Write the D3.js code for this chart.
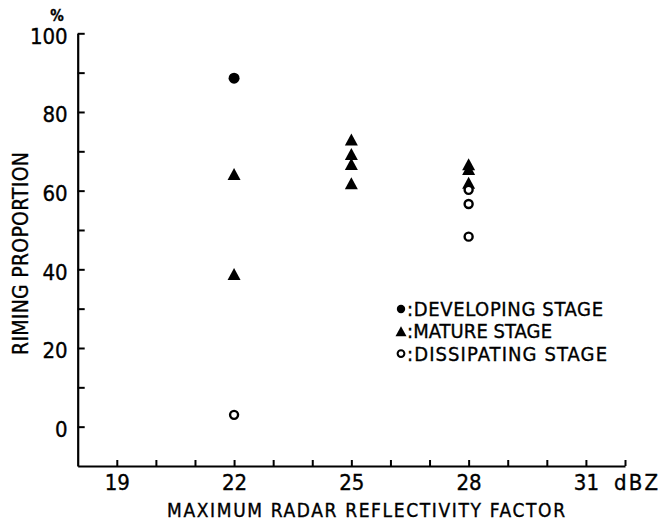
<!DOCTYPE html>
<html>
<head>
<meta charset="utf-8">
<script src="https://cdn.jsdelivr.net/npm/d3@7"></script>
<style>
  html, body { margin: 0; padding: 0; background: #fff; }
  svg { display: block; }
  text { font-family: "Liberation Sans Narrow", "DejaVu Sans Condensed", "Arial Narrow", sans-serif; fill: #000; stroke: #000; stroke-width: 0.35px; }
</style>
</head>
<body>
<svg id="chart" width="662" height="521"></svg>
<script>
// ---- data ----
const developingX = [22];
const developingY = [88.6];

const matureX = [22, 22, 25, 25, 25, 25, 28, 28, 28];
const matureY = [64.2, 38.8, 73.0, 69.3, 66.8, 61.9, 66.7, 65.5, 62.0];

const dissipatingX = [22, 28, 28, 28];
const dissipatingY = [3.0, 60.2, 56.6, 48.3];

const xTicks = [19, 20, 21, 22, 23, 24, 25, 26, 27, 28, 29, 30, 31, 32];
const xTickLabels = [19, 22, 25, 28, 31];
const yTicks = [0, 10, 20, 30, 40, 50, 60, 70, 80, 90, 100];
const yTickLabels = [0, 20, 40, 60, 80, 100];

const legendLabels = [":DEVELOPING STAGE", ":MATURE STAGE", ":DISSIPATING STAGE"];
const xTitle = "MAXIMUM  RADAR  REFLECTIVITY  FACTOR";
const yTitle = "RIMING  PROPORTION";
const xUnit = "dBZ";
const yUnit = "%";

// ---- chart ----
const svg = d3.select("#chart");
const x = d3.scaleLinear().domain([18, 32]).range([77.7, 625]);
const y = d3.scaleLinear().domain([-10, 100]).range([466, 33.3]);

const fontTick = 22;

// Y axis
const yAxis = d3.axisLeft(y)
  .tickValues(yTicks)
  .tickSizeInner(-7)
  .tickSizeOuter(0)
  .tickPadding(10)
  .tickFormat(d => yTickLabels.includes(d) ? d : "");
const gy = svg.append("g").attr("transform", `translate(${x(18)},0)`).call(yAxis);
gy.select(".domain").attr("stroke", "#000").attr("stroke-width", 2.2);
gy.selectAll(".tick line").attr("stroke", "#000").attr("stroke-width", 2);
gy.selectAll(".tick text")
  .attr("font-size", fontTick)
  .attr("font-family", null)
  .attr("dy", "0.45em");

// X axis
const xAxis = d3.axisBottom(x)
  .tickValues(xTicks)
  .tickSizeInner(-6)
  .tickSizeOuter(0)
  .tickFormat(d => xTickLabels.includes(d) ? d : "");
const gx = svg.append("g").attr("transform", `translate(0,${y(-10)})`).call(xAxis);
gx.select(".domain").attr("stroke", "#000").attr("stroke-width", 2.2);
gx.selectAll(".tick line").attr("stroke", "#000").attr("stroke-width", 2);
gx.selectAll(".tick text")
  .attr("font-size", fontTick)
  .attr("font-family", null)
  .attr("y", 24)
  .attr("dy", 0);

// unit labels
svg.append("text")
  .attr("x", x(32) - 11)
  .attr("y", y(-10) + 24)
  .attr("font-size", fontTick)
  .attr("textLength", 44)
  .attr("lengthAdjust", "spacing")
  .text(xUnit);
svg.append("text")
  .attr("x", 57)
  .attr("y", 21)
  .attr("text-anchor", "middle")
  .attr("font-size", 15)
  .attr("font-weight", "bold")
  .text(yUnit);

// axis titles
svg.append("text")
  .attr("x", 167)
  .attr("y", 517)
  .attr("font-size", 19)
  .attr("textLength", 398)
  .attr("lengthAdjust", "spacing")
  .text(xTitle);
svg.append("text")
  .attr("transform", "translate(28.3,253.5) rotate(-90)")
  .attr("text-anchor", "middle")
  .attr("font-size", 21)
  .attr("textLength", 203)
  .attr("lengthAdjust", "spacing")
  .text(yTitle);

// marker shapes
const triPath = (w, h) => `M0,${-h / 2}L${w / 2},${h / 2}L${-w / 2},${h / 2}Z`;

// points
const plot = svg.append("g");
plot.selectAll("circle.dev")
  .data(developingX.map((v, i) => [v, developingY[i]]))
  .join("circle")
  .attr("class", "dev")
  .attr("cx", d => x(d[0]))
  .attr("cy", d => y(d[1]))
  .attr("r", 5.5)
  .attr("fill", "#000");

plot.selectAll("path.mat")
  .data(matureX.map((v, i) => [v, matureY[i]]))
  .join("path")
  .attr("class", "mat")
  .attr("d", triPath(13, 12))
  .attr("transform", d => `translate(${x(d[0])},${y(d[1])})`)
  .attr("fill", "#000");

plot.selectAll("circle.dis")
  .data(dissipatingX.map((v, i) => [v, dissipatingY[i]]))
  .join("circle")
  .attr("class", "dis")
  .attr("cx", d => x(d[0]))
  .attr("cy", d => y(d[1]))
  .attr("r", 4)
  .attr("fill", "#fff")
  .attr("stroke", "#000")
  .attr("stroke-width", 2.4);

// legend
const legend = svg.append("g").attr("transform", "translate(401,0)");
const legendBase = [316, 338.3, 360.6];
const legendLen = [196, 145, 200];
legend.append("circle").attr("cx", 0).attr("cy", legendBase[0] - 7).attr("r", 4.2).attr("fill", "#000");
legend.append("path").attr("d", triPath(11, 10)).attr("transform", `translate(0,${legendBase[1] - 7})`).attr("fill", "#000");
legend.append("circle").attr("cx", 0).attr("cy", legendBase[2] - 7).attr("r", 3.4)
  .attr("fill", "#fff").attr("stroke", "#000").attr("stroke-width", 2);
legend.selectAll("text")
  .data(legendLabels)
  .join("text")
  .attr("x", 6)
  .attr("y", (d, i) => legendBase[i])
  .attr("font-size", 20)
  .attr("textLength", (d, i) => legendLen[i])
  .attr("lengthAdjust", "spacing")
  .text(d => d);
</script>
</body>
</html>
